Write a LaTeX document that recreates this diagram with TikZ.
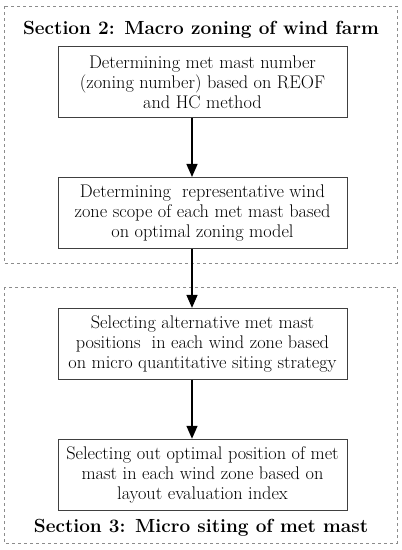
\documentclass[tikz,border=0pt]{standalone}
\usetikzlibrary{positioning,arrows.meta}

\tikzset{
  stagebox/.style={draw=black!75, line width=0.9pt, minimum width=289pt,
    minimum height=71pt, align=center, inner sep=2pt,
    font=\fontsize{18.3}{19.8}\selectfont},
  frame/.style={draw=black!45, dashed, line width=0.6pt},
  flow/.style={-{Triangle[width=11pt,length=13pt]}, line width=1.5pt},
  sectitle/.style={font=\bfseries\fontsize{19}{22}\selectfont}
}

\begin{document}
\begin{tikzpicture}[x=1pt,y=-1pt]
    \useasboundingbox (0,0) rectangle (402,550);

    % section frames
    \draw[frame] (4,6) rectangle (397,263);
    \draw[frame] (4,287) rectangle (397,543);

    \node[sectitle] (sec2) at (201,30) {Section 2: Macro zoning of wind farm};

    \node[stagebox] (num) at (202.5,82)
       {Determining met mast number\\(zoning number) based on REOF\\and HC method};
    \node[stagebox, below=59pt of num] (scope)
       {Determining \ representative wind\\zone scope of each met mast based\\on optimal zoning model};
    \node[stagebox, below=59pt of scope] (alt)
       {Selecting alternative met mast\\positions \ in each wind zone based\\on micro quantitative siting strategy};
    \node[stagebox, below=59pt of alt] (opt)
       {Selecting out optimal position of met\\mast in each wind zone based on\\layout evaluation index};

    \node[sectitle] (sec3) at (201,528) {Section 3: Micro siting of met mast};

    % arrows
    \coordinate (axis) at (192,0);
    \draw[flow] (num.south -| axis) -- (scope.north -| axis);
    \draw[flow] (scope.south -| axis) -- (alt.north -| axis);
    \draw[flow] (alt.south -| axis) -- (opt.north -| axis);
    %\draw[flow] (num) -- (scope);
\end{tikzpicture}
\end{document}
